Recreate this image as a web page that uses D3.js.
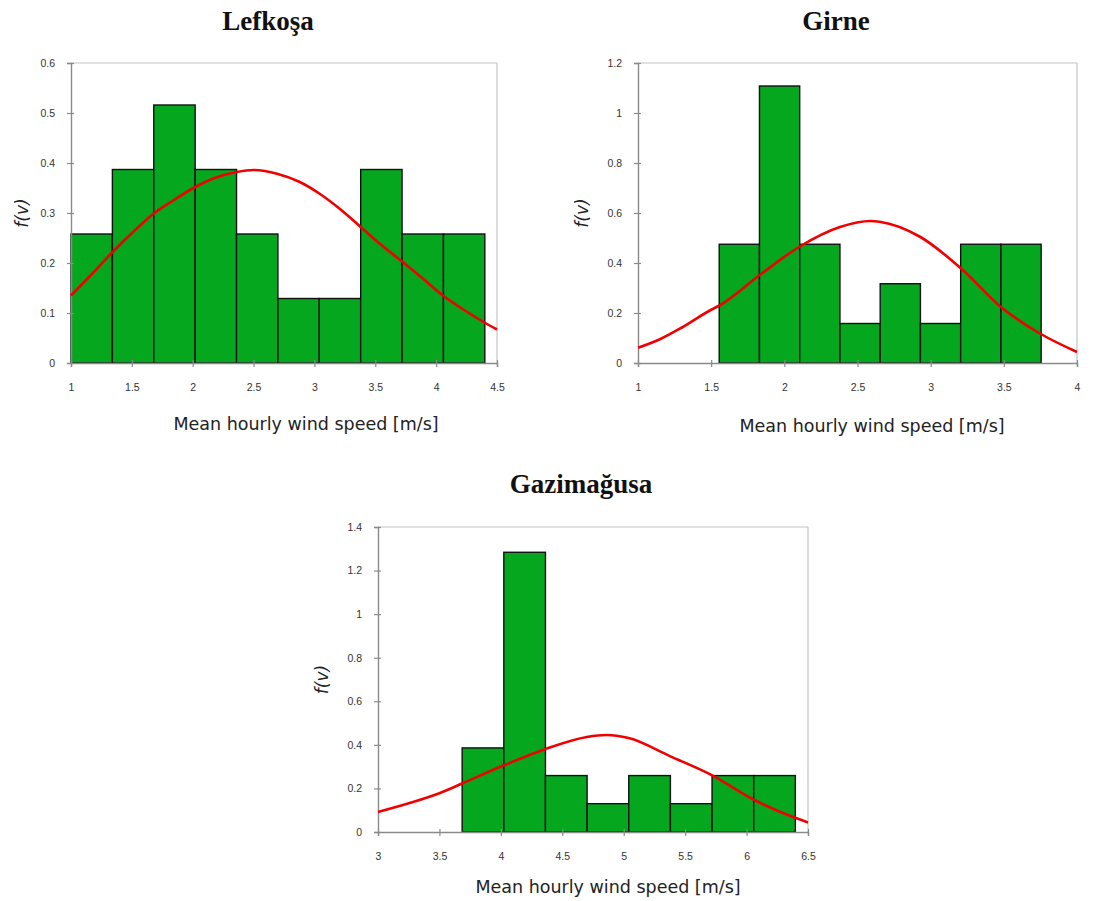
<!DOCTYPE html>
<html>
<head>
<meta charset="utf-8">
<script src="https://cdn.jsdelivr.net/npm/d3@7"></script>
<style>
  body { margin: 0; background: #fff; }
  svg { display: block; }
</style>
</head>
<body>
<div id="chart"></div>
<script>
// --- data ---
let stations = ['Lefkoşa', 'Girne', 'Gazimağusa'];

let lefEdges = [1, 1.34, 1.68, 2.02, 2.36, 2.70, 3.04, 3.38, 3.72, 4.06, 4.40];
let lefDensity = [0.258, 0.387, 0.516, 0.387, 0.258, 0.129, 0.129, 0.387, 0.258, 0.258];
let lefFit = [[1.00,0.135],[1.16,0.175],[1.33,0.219],[1.51,0.262],[1.68,0.299],[1.84,0.325],
  [2.02,0.352],[2.17,0.369],[2.36,0.382],[2.50,0.386],[2.70,0.378],[2.88,0.362],[3.04,0.339],
  [3.21,0.308],[3.38,0.272],[3.54,0.238],[3.72,0.203],[3.90,0.167],[4.05,0.136],[4.23,0.106],
  [4.39,0.082],[4.50,0.067]];
let lefXTicks = [1, 1.5, 2, 2.5, 3, 3.5, 4, 4.5];
let lefYTicks = [0, 0.1, 0.2, 0.3, 0.4, 0.5, 0.6];

let girEdges = [1.555, 1.83, 2.105, 2.38, 2.655, 2.93, 3.205, 3.48, 3.755];
let girDensity = [0.475, 1.108, 0.475, 0.158, 0.317, 0.158, 0.475, 0.475];
let girFit = [[1.00,0.061],[1.15,0.095],[1.30,0.142],[1.50,0.213],[1.56,0.231],[1.83,0.351],
  [2.10,0.464],[2.38,0.544],[2.59,0.568],[2.65,0.565],[2.93,0.504],[3.21,0.377],[3.48,0.224],
  [3.75,0.117],[4.00,0.044]];
let girXTicks = [1, 1.5, 2, 2.5, 3, 3.5, 4];
let girYTicks = [0, 0.2, 0.4, 0.6, 0.8, 1, 1.2];

let gazEdges = [3.685, 4.024, 4.363, 4.702, 5.041, 5.38, 5.719, 6.058, 6.397];
let gazDensity = [0.386, 1.284, 0.259, 0.130, 0.259, 0.130, 0.259, 0.259];
let gazFit = [[3.00,0.092],[3.25,0.132],[3.50,0.178],[3.69,0.224],[4.02,0.305],[4.36,0.380],
  [4.70,0.436],[4.86,0.445],[5.04,0.431],[5.38,0.347],[5.72,0.260],[6.06,0.148],[6.40,0.064],
  [6.50,0.044]];
let gazXTicks = [3, 3.5, 4, 4.5, 5, 5.5, 6, 6.5];
let gazYTicks = [0, 0.2, 0.4, 0.6, 0.8, 1, 1.2, 1.4];

let xLabel = 'Mean hourly wind speed [m/s]';

let svg = d3.select('#chart').append('svg')
  .attr('width', 1109)
  .attr('height', 901);

function drawPanel(p) {
  let x = d3.scaleLinear()
    .domain(d3.extent(p.xTicks))
    .range([p.left, p.right]);
  let y = d3.scaleLinear()
    .domain(d3.extent(p.yTicks))
    .range([p.bottom, p.top]);

  let g = svg.append('g');

  // plot frame (top / right are lighter)
  g.append('line')
    .attr('x1', p.left).attr('x2', p.right).attr('y1', p.top).attr('y2', p.top)
    .attr('stroke', '#c4c4c4').attr('stroke-width', 1.2);
  g.append('line')
    .attr('x1', p.right).attr('x2', p.right).attr('y1', p.top).attr('y2', p.bottom)
    .attr('stroke', '#c4c4c4').attr('stroke-width', 1.2);

  // bars
  let bins = p.density.map((d, i) => ({x0: p.edges[i], x1: p.edges[i + 1], v: d}));
  g.selectAll('rect.bar')
    .data(bins)
    .enter().append('rect')
    .attr('class', 'bar')
    .attr('x', d => x(d.x0))
    .attr('y', d => y(d.v))
    .attr('width', d => x(d.x1) - x(d.x0))
    .attr('height', d => y(0) - y(d.v))
    .attr('fill', '#05a71f')
    .attr('stroke', '#111')
    .attr('stroke-width', 1.4);

  // axes
  let xAxis = g.append('g')
    .attr('transform', 'translate(0,' + p.bottom + ')')
    .call(d3.axisBottom(x).tickValues(p.xTicks).tickSize(4).tickPadding(17).tickFormat(d => String(d)));
  let yAxis = g.append('g')
    .attr('transform', 'translate(' + p.left + ',0)')
    .call(d3.axisLeft(y).tickValues(p.yTicks).tickSize(4).tickPadding(12).tickFormat(d3.format('~g')));

  [xAxis, yAxis].forEach(a => {
    a.select('.domain').attr('stroke', '#8a8a8a').attr('stroke-width', 1.4);
    a.selectAll('.tick line').attr('stroke', '#8a8a8a').attr('stroke-width', 1.2);
    a.selectAll('.tick text')
      .attr('fill', '#333')
      .attr('font-family', 'Liberation Sans, Arial, sans-serif')
      .attr('font-size', 10.5);
  });
  xAxis.selectAll('.tick line').attr('y1', -3).attr('y2', 4);
  yAxis.selectAll('.tick line').attr('x1', 3).attr('x2', -4);

  // fitted curve
  let line = d3.line()
    .x(d => x(d[0]))
    .y(d => y(d[1]))
    .curve(d3.curveMonotoneX);
  g.append('path')
    .attr('d', line(p.fit))
    .attr('fill', 'none')
    .attr('stroke', '#f00000')
    .attr('stroke-width', 2.6);

  // titles
  svg.append('text')
    .attr('x', p.titleX).attr('y', p.titleY)
    .attr('text-anchor', 'middle')
    .attr('font-family', 'Liberation Serif, Times New Roman, serif')
    .attr('font-weight', 'bold')
    .attr('font-size', 27)
    .attr('fill', '#111')
    .text(p.title);

  svg.append('text')
    .attr('x', p.xLabelX).attr('y', p.xLabelY)
    .attr('text-anchor', 'middle')
    .attr('font-family', 'DejaVu Sans, Verdana, sans-serif')
    .attr('font-size', 17.5)
    .attr('fill', '#222')
    .text(xLabel);

  svg.append('text')
    .attr('transform', 'translate(' + p.yLabelX + ',' + ((p.top + p.bottom) / 2) + ') rotate(-90)')
    .attr('text-anchor', 'middle')
    .attr('dy', '0.35em')
    .attr('font-family', 'DejaVu Sans, Verdana, sans-serif')
    .attr('font-style', 'italic')
    .attr('font-size', 17)
    .attr('fill', '#222')
    .text('f(v)');
}

drawPanel({
  title: stations[0], titleX: 268, titleY: 30,
  left: 71, right: 497, top: 63, bottom: 363,
  xLabelX: 306, xLabelY: 430, yLabelX: 22,
  edges: lefEdges, density: lefDensity, fit: lefFit,
  xTicks: lefXTicks, yTicks: lefYTicks
});

drawPanel({
  title: stations[1], titleX: 836, titleY: 30,
  left: 638, right: 1077, top: 63, bottom: 363,
  xLabelX: 872, xLabelY: 432, yLabelX: 582,
  edges: girEdges, density: girDensity, fit: girFit,
  xTicks: girXTicks, yTicks: girYTicks
});

drawPanel({
  title: stations[2], titleX: 581, titleY: 493,
  left: 378, right: 808, top: 527, bottom: 832,
  xLabelX: 608, xLabelY: 893, yLabelX: 322,
  edges: gazEdges, density: gazDensity, fit: gazFit,
  xTicks: gazXTicks, yTicks: gazYTicks
});
</script>
</body>
</html>
